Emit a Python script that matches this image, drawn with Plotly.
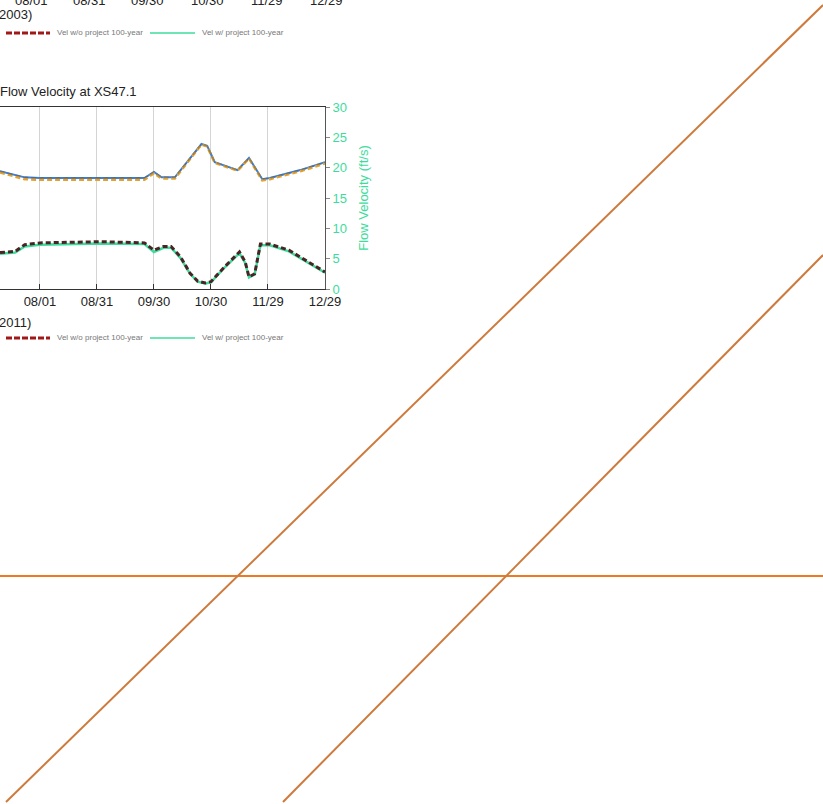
import plotly.graph_objects as go

W, H = 823, 804

# ---- data: flow velocity at XS47.1 (2011) ----
dates_upper = ["2011-07-11", "2011-07-24", "2011-08-01", "2011-09-25", "2011-09-30",
               "2011-10-04", "2011-10-11", "2011-10-25", "2011-10-28", "2011-11-01",
               "2011-11-13", "2011-11-19", "2011-11-26", "2011-11-30", "2011-12-16",
               "2011-12-29"]
vel_upper_solid = [19.4, 18.4, 18.3, 18.3, 19.3, 18.4, 18.4, 23.9, 23.6, 20.9,
                   19.6, 21.6, 18.1, 18.3, 19.6, 20.9]
vel_upper_dash = [19.2, 18.1, 18.0, 18.0, 19.1, 18.2, 18.2, 23.8, 23.5, 20.8,
                  19.5, 21.5, 17.9, 18.1, 19.4, 20.7]

dates_lower = ["2011-07-11", "2011-07-19", "2011-07-24", "2011-08-01", "2011-09-02",
               "2011-09-25", "2011-09-30", "2011-10-05", "2011-10-09", "2011-10-14",
               "2011-10-19", "2011-10-23", "2011-10-27", "2011-10-30", "2011-11-06",
               "2011-11-14", "2011-11-17", "2011-11-19", "2011-11-22", "2011-11-25",
               "2011-11-30", "2011-12-10", "2011-12-29"]
vel_wo_project = [6.0, 6.2, 7.3, 7.6, 7.8, 7.6, 6.4, 7.0, 7.0, 5.3, 2.6, 1.3, 1.0,
                  1.2, 3.6, 6.1, 4.5, 2.0, 2.5, 7.4, 7.4, 6.4, 2.8]
vel_w_project = [5.8, 6.0, 7.0, 7.3, 7.5, 7.4, 6.1, 6.8, 6.8, 5.1, 2.5, 1.2, 0.9,
                 1.1, 3.5, 5.9, 4.3, 1.9, 2.4, 7.2, 7.2, 6.2, 2.7]

tick_dates = ["2011-08-01", "2011-08-31", "2011-09-30", "2011-10-30", "2011-11-29", "2011-12-29"]
tick_text = ["08/01", "08/31", "09/30", "10/30", "11/29", "12/29"]
vel_ticks = [0, 5, 10, 15, 20, 25, 30]

# remnants of the chart above (2003), cut by the page edge
upper_tick_x = [32, 89, 147, 207, 267, 326]

# ---- data: orange overlay lines (page pixels) ----
diag1_x, diag1_y = [6, 823], [802, 5]
diag2_x, diag2_y = [283, 823], [802, 255]
horiz_x, horiz_y = [0, 823], [576, 576]

GREEN = "#3ddc9c"
FONT = "Arial, Liberation Sans, sans-serif"


def px(x):
    return x / W


def py(y):
    return 1 - y / H


fig = go.Figure()

# chart traces
fig.add_trace(go.Scatter(x=dates_upper, y=vel_upper_solid, mode="lines",
                         line=dict(color="#3b7fd6", width=2), xaxis="x2", yaxis="y2"))
fig.add_trace(go.Scatter(x=dates_upper, y=vel_upper_dash, mode="lines",
                         line=dict(color="#e0a232", width=2.5, dash="5px,3px"), xaxis="x2", yaxis="y2"))
fig.add_trace(go.Scatter(x=dates_upper, y=vel_upper_solid, mode="lines",
                         line=dict(color="#5a5a5a", width=1.5, dash="5px,3px"), opacity=0.5,
                         xaxis="x2", yaxis="y2"))
fig.add_trace(go.Scatter(x=dates_lower, y=vel_w_project, mode="lines",
                         line=dict(color=GREEN, width=2.5), xaxis="x2", yaxis="y2"))
fig.add_trace(go.Scatter(x=dates_lower, y=vel_wo_project, mode="lines",
                         line=dict(color="#4a2424", width=3, dash="5px,3px"), xaxis="x2", yaxis="y2"))

# orange overlay lines
fig.add_trace(go.Scatter(x=horiz_x, y=horiz_y, mode="lines",
                         line=dict(color="#ec7a22", width=2), xaxis="x", yaxis="y"))
fig.add_trace(go.Scatter(x=diag1_x, y=diag1_y, mode="lines",
                         line=dict(color="#cd7a3c", width=2), xaxis="x", yaxis="y"))
fig.add_trace(go.Scatter(x=diag2_x, y=diag2_y, mode="lines",
                         line=dict(color="#cd7a3c", width=2), xaxis="x", yaxis="y"))

annotations = []
for xpos, lab in zip(upper_tick_x, tick_text):
    annotations.append(dict(x=px(xpos), y=py(0), text=lab,
                            font=dict(size=13, color="#222", family=FONT),
                            xanchor="center", yanchor="middle"))
annotations += [
    dict(x=px(-3), y=py(15), text="2003)", xanchor="left", yanchor="middle",
         font=dict(size=13, color="#222", family=FONT)),
    dict(x=px(-2), y=py(91), text="Flow Velocity at XS47.1", xanchor="left", yanchor="middle",
         font=dict(size=13, color="#222", family=FONT)),
    dict(x=px(-3), y=py(322), text="2011)", xanchor="left", yanchor="middle",
         font=dict(size=13, color="#222", family=FONT)),
]
for ly in (33, 338):
    annotations.append(dict(x=px(55), y=py(ly), text="Vel w/o project 100-year",
                            xanchor="left", yanchor="middle",
                            font=dict(size=8, color="#777", family=FONT)))
    annotations.append(dict(x=px(200), y=py(ly), text="Vel w/ project 100-year",
                            xanchor="left", yanchor="middle",
                            font=dict(size=8, color="#777", family=FONT)))
for a in annotations:
    a["xref"] = "paper"
    a["yref"] = "paper"
    a["showarrow"] = False

shapes = []
for ly in (33, 338):
    shapes.append(dict(type="line", xref="paper", yref="paper", x0=px(6), x1=px(50),
                       y0=py(ly), y1=py(ly), line=dict(color="#a01818", width=3, dash="6px,2px")))
    shapes.append(dict(type="line", xref="paper", yref="paper", x0=px(150), x1=px(195),
                       y0=py(ly), y1=py(ly), line=dict(color=GREEN, width=1.5)))

fig.update_layout(
    width=W, height=H, autosize=False,
    margin=dict(l=0, r=0, t=0, b=0, autoexpand=False),
    paper_bgcolor="white", plot_bgcolor="rgba(0,0,0,0)",
    showlegend=False,
    font=dict(family=FONT),
    xaxis=dict(domain=[0, 1], range=[0, W], visible=False, fixedrange=True),
    yaxis=dict(domain=[0, 1], range=[H, 0], visible=False, fixedrange=True),
    xaxis2=dict(domain=[0, px(325)], anchor="y2", type="date",
                range=["2011-07-11", "2011-12-29"],
                tickvals=tick_dates, ticktext=tick_text,
                tickfont=dict(size=13, color="#222"),
                ticks="inside", ticklen=5, tickcolor="#333",
                showgrid=True, gridcolor="#d4d4d4", gridwidth=1,
                showline=True, linecolor="#333", linewidth=1, mirror=True,
                zeroline=False),
    yaxis2=dict(domain=[py(289), py(107)], anchor="x2", side="right",
                range=[0, 30], tickvals=vel_ticks,
                tickfont=dict(size=13, color=GREEN),
                ticks="outside", ticklen=4, tickcolor="#888",
                showgrid=False, zeroline=False,
                showline=True, linecolor="#555", linewidth=1,
                title=dict(text="Flow Velocity (ft/s)", font=dict(size=13, color=GREEN),
                           standoff=12)),
    annotations=annotations,
    shapes=shapes,
)

fig.write_html("out.html",
               config={"responsive": False, "displayModeBar": False},
               post_script="document.body.style.margin='0';document.body.style.overflow='hidden';")
